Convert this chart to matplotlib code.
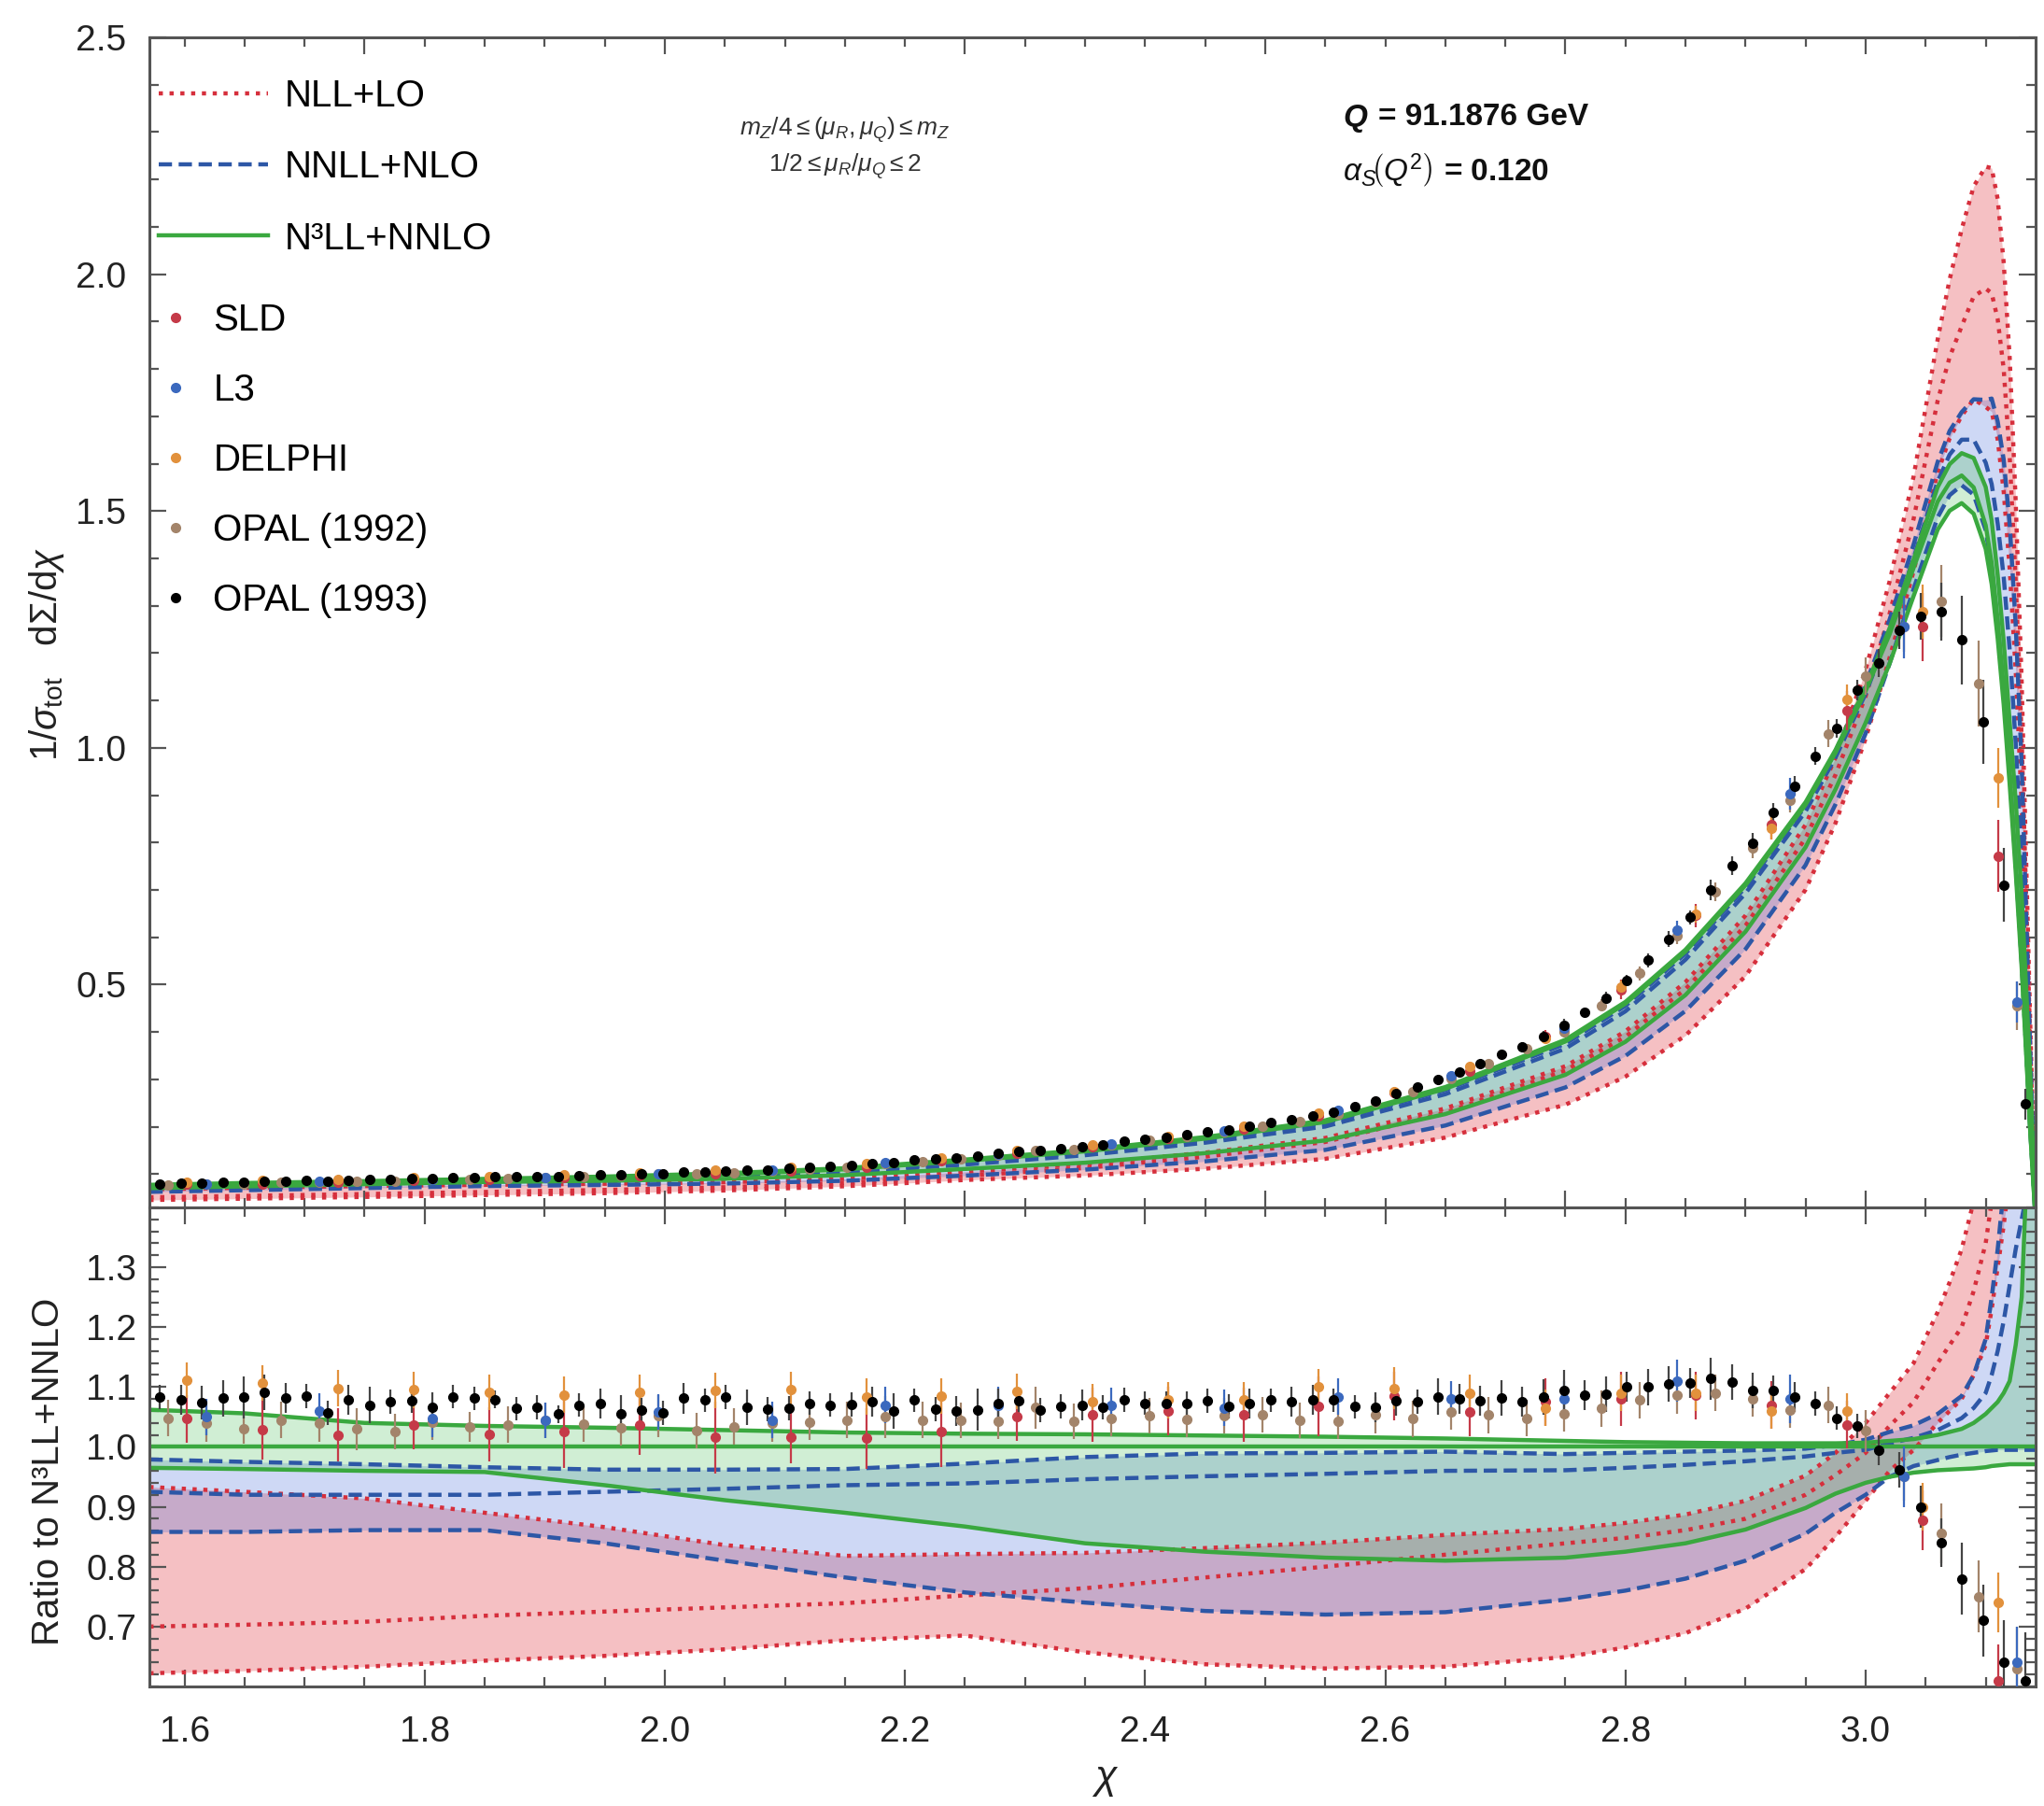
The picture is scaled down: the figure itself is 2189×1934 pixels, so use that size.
import numpy as np
import matplotlib
matplotlib.use('Agg')
import matplotlib.pyplot as plt
from matplotlib.ticker import MultipleLocator, FixedLocator, FormatStrFormatter
from matplotlib.lines import Line2D

plt.rcParams.update({
    'font.family': ['Liberation Sans', 'DejaVu Sans'],
    'mathtext.fontset': 'custom',
    'mathtext.rm': 'Liberation Sans',
    'mathtext.it': 'Liberation Sans:italic',
    'mathtext.bf': 'Liberation Sans:bold',
    'axes.unicode_minus': False,
})

# theory grid (chi in rad) and N3LL+NNLO central value
CHI = [1.5708, 1.65, 1.75, 1.85, 1.95, 2.05, 2.15, 2.25, 2.35, 2.45, 2.55, 2.65, 2.75, 2.8, 2.85,
       2.9, 2.95, 2.975, 3.0, 3.02, 3.04, 3.06, 3.07, 3.08, 3.09, 3.10, 3.105, 3.11, 3.115,
       3.12, 3.125, 3.13, 3.137, 3.1416]
G_MID = [0.073, 0.077, 0.082, 0.087, 0.092, 0.099, 0.110, 0.128, 0.148, 0.175, 0.210, 0.280, 0.380,
         0.460, 0.570, 0.710, 0.880, 0.990, 1.120, 1.240, 1.380, 1.520, 1.560, 1.575, 1.550, 1.470,
         1.390, 1.270, 1.125, 0.950, 0.760, 0.550, 0.200, 0.0]

# band edges as ratio to N3LL+NNLO central
G_UP = [1.062, 1.056, 1.040, 1.035, 1.032, 1.028, 1.024, 1.022, 1.021, 1.019, 1.017, 1.014, 1.010,
        1.008, 1.007, 1.006, 1.006, 1.006, 1.007, 1.010, 1.013, 1.020, 1.025, 1.030, 1.040, 1.055,
        1.065, 1.075, 1.090, 1.110, 1.170, 1.250, 1.600, 2.000]
G_LO = [0.965, 0.963, 0.960, 0.958, 0.936, 0.911, 0.890, 0.867, 0.839, 0.825, 0.815, 0.810, 0.815,
        0.825, 0.839, 0.862, 0.898, 0.922, 0.940, 0.950, 0.957, 0.961, 0.962, 0.963, 0.964, 0.966,
        0.968, 0.969, 0.970, 0.971, 0.971, 0.971, 0.971, 0.971]
B_UP = [0.979, 0.975, 0.971, 0.966, 0.962, 0.962, 0.963, 0.972, 0.983, 0.989, 0.990, 0.992, 0.988,
        0.990, 0.992, 0.994, 0.997, 1.003, 1.012, 1.025, 1.036, 1.055, 1.070, 1.085, 1.120, 1.180,
        1.250, 1.330, 1.430, 1.550, 1.660, 1.750, 1.850, 1.900]
B_MID = [0.925, 0.920, 0.920, 0.920, 0.925, 0.930, 0.936, 0.939, 0.946, 0.951, 0.955, 0.960, 0.961,
         0.965, 0.970, 0.976, 0.984, 0.990, 0.995, 1.006, 1.015, 1.028, 1.038, 1.048, 1.065, 1.090,
         1.120, 1.160, 1.210, 1.270, 1.330, 1.380, 1.450, 1.500]
B_LO = [0.858, 0.858, 0.861, 0.861, 0.839, 0.810, 0.782, 0.757, 0.740, 0.726, 0.720, 0.724, 0.745,
        0.760, 0.780, 0.810, 0.855, 0.890, 0.920, 0.950, 0.968, 0.978, 0.983, 0.987, 0.990, 0.993,
        0.994, 0.995, 0.995, 0.995, 0.995, 0.995, 0.995, 0.995]
R_UP = [0.933, 0.925, 0.914, 0.890, 0.866, 0.836, 0.818, 0.821, 0.823, 0.831, 0.840, 0.853, 0.863,
        0.873, 0.887, 0.910, 0.952, 0.990, 1.040, 1.090, 1.140, 1.225, 1.275, 1.330, 1.410, 1.515,
        1.600, 1.700, 1.800, 1.920, 2.000, 2.070, 2.150, 2.200]
R_MID = [0.700, 0.703, 0.708, 0.718, 0.725, 0.732, 0.739, 0.752, 0.764, 0.782, 0.800, 0.820, 0.839,
         0.848, 0.861, 0.880, 0.920, 0.953, 0.990, 1.035, 1.075, 1.140, 1.170, 1.200, 1.260, 1.340,
         1.410, 1.500, 1.600, 1.700, 1.780, 1.850, 1.950, 2.000]
R_LO = [0.622, 0.626, 0.633, 0.643, 0.651, 0.662, 0.677, 0.685, 0.657, 0.637, 0.630, 0.633, 0.649,
        0.665, 0.689, 0.730, 0.796, 0.850, 0.910, 0.960, 0.995, 1.040, 1.060, 1.080, 1.120, 1.170,
        1.230, 1.300, 1.370, 1.450, 1.530, 1.600, 1.680, 1.700]

# data: bin centres in degrees, ratio to N3LL+NNLO, error (ratio units)
OPAL93_DEG = np.arange(90.5, 180.0, 1.0)
OPAL93 = [1.083, 1.079, 1.074, 1.081, 1.083, 1.091, 1.082, 1.085, 1.057, 1.078,
          1.070, 1.075, 1.077, 1.066, 1.084, 1.081, 1.079, 1.064, 1.066, 1.055,
          1.070, 1.072, 1.056, 1.061, 1.057, 1.081, 1.078, 1.083, 1.066, 1.063,
          1.065, 1.073, 1.070, 1.071, 1.076, 1.060, 1.078, 1.063, 1.060, 1.062,
          1.072, 1.077, 1.061, 1.068, 1.070, 1.066, 1.079, 1.073, 1.073, 1.072,
          1.077, 1.068, 1.073, 1.078, 1.075, 1.079, 1.078, 1.067, 1.066, 1.077,
          1.076, 1.084, 1.080, 1.077, 1.082, 1.075, 1.083, 1.094, 1.086, 1.088,
          1.100, 1.100, 1.105, 1.107, 1.114, 1.108, 1.094, 1.094, 1.083, 1.072,
          1.048, 1.035, 0.995, 0.962, 0.900, 0.840, 0.780, 0.710, 0.640, 0.610]
OPAL93_ERR = [0.020, 0.025, 0.028, 0.030, 0.035, 0.030, 0.025, 0.020, 0.020, 0.025,
              0.030, 0.020, 0.020, 0.025, 0.020, 0.020, 0.015, 0.020, 0.020, 0.015,
              0.020, 0.025, 0.030, 0.020, 0.020, 0.025, 0.020, 0.020, 0.030, 0.020,
              0.020, 0.020, 0.020, 0.020, 0.025, 0.030, 0.020, 0.020, 0.025, 0.035,
              0.025, 0.020, 0.020, 0.020, 0.025, 0.020, 0.020, 0.020, 0.020, 0.020,
              0.020, 0.020, 0.025, 0.020, 0.025, 0.025, 0.020, 0.020, 0.025, 0.025,
              0.020, 0.030, 0.025, 0.025, 0.030, 0.025, 0.030, 0.035, 0.025, 0.030,
              0.025, 0.030, 0.030, 0.025, 0.035, 0.030, 0.030, 0.025, 0.025, 0.020,
              0.020, 0.020, 0.025, 0.030, 0.035, 0.040, 0.060, 0.060, 0.070, 0.080]

OPAL92_DEG = np.arange(90.9, 180.0, 1.8)
OPAL92 = [1.048, 1.039, 1.030, 1.045, 1.039, 1.030, 1.026, 1.041, 1.033, 1.037,
          1.044, 1.038, 1.032, 1.052, 1.027, 1.034, 1.039, 1.041, 1.045, 1.050,
          1.045, 1.044, 1.043, 1.066, 1.043, 1.048, 1.052, 1.046, 1.052, 1.054,
          1.044, 1.043, 1.053, 1.047, 1.059, 1.053, 1.048, 1.056, 1.064, 1.078,
          1.086, 1.090, 1.080, 1.062, 1.070, 1.027, 0.950, 0.855, 0.750, 0.630]
OPAL92_ERR = [0.030, 0.030, 0.025, 0.030, 0.030, 0.035, 0.030, 0.030, 0.025, 0.030,
              0.030, 0.030, 0.030, 0.035, 0.030, 0.030, 0.030, 0.030, 0.030, 0.035,
              0.030, 0.030, 0.030, 0.035, 0.030, 0.030, 0.030, 0.030, 0.030, 0.030,
              0.030, 0.030, 0.030, 0.030, 0.030, 0.030, 0.030, 0.030, 0.030, 0.030,
              0.030, 0.030, 0.030, 0.030, 0.030, 0.035, 0.040, 0.050, 0.060, 0.070]

SLD_DEG = np.arange(91.8, 180.0, 3.6)
SLD = [1.047, 1.029, 1.020, 1.036, 1.021, 1.025, 1.036, 1.016, 1.017, 1.014,
       1.026, 1.050, 1.054, 1.060, 1.054, 1.068, 1.085, 1.058, 1.075, 1.080,
       1.086, 1.070, 1.037, 0.877, 0.610]
SLD_ERR = [0.040, 0.050, 0.045, 0.040, 0.045, 0.060, 0.050, 0.060, 0.045, 0.050,
           0.060, 0.040, 0.045, 0.040, 0.045, 0.050, 0.040, 0.040, 0.040, 0.045,
           0.040, 0.040, 0.040, 0.050, 0.060]

DELPHI_DEG = np.arange(91.8, 180.0, 3.6)
DELPHI = [1.111, 1.107, 1.098, 1.095, 1.091, 1.087, 1.091, 1.094, 1.095, 1.084,
          1.085, 1.093, 1.075, 1.078, 1.079, 1.100, 1.098, 1.090, 1.065, 1.090,
          1.090, 1.060, 1.060, 0.900, 0.740]
DELPHI_ERR = [0.030, 0.030, 0.030, 0.030, 0.030, 0.030, 0.030, 0.030, 0.030, 0.030,
              0.030, 0.030, 0.030, 0.030, 0.030, 0.030, 0.035, 0.030, 0.030, 0.030,
              0.030, 0.030, 0.030, 0.040, 0.050]

L3_DEG = np.arange(92.7, 180.0, 5.4)
L3 = [1.050, 1.060, 1.047, 1.044, 1.058, 1.045, 1.070, 1.070, 1.069, 1.065,
      1.084, 1.080, 1.080, 1.110, 1.080, 0.950, 0.640]
L3_ERR = [0.030, 0.030, 0.030, 0.030, 0.030, 0.030, 0.030, 0.030, 0.030, 0.030,
          0.030, 0.030, 0.030, 0.035, 0.040, 0.050, 0.060]

RED, BLUE, GREEN = '#d62f3c', '#2d57a6', '#3aa83f'

fig = plt.figure(figsize=(21.89, 19.34), dpi=100)
ax1 = fig.add_axes([0.0731, 0.3315, 0.9228, 0.6478])
ax2 = fig.add_axes([0.0731, 0.0662, 0.9228, 0.2653])

chi = np.array(CHI)
gmid = np.array(G_MID)
orders = [
    (R_UP, R_MID, R_LO, RED, (0, (1, 1.6)), '#e23c46', 0.32),
    (B_UP, B_MID, B_LO, BLUE, (0, (3.2, 1.6)), '#4a72dc', 0.27),
    (G_UP, None, G_LO, GREEN, '-', '#4cc05a', 0.26),
]
for up, mid, lo, col, ls, fcol, alpha in orders:
    up, lo = np.array(up), np.array(lo)
    ax1.fill_between(chi, up * gmid, lo * gmid, color=fcol, alpha=alpha, lw=0, zorder=1)
    ax2.fill_between(chi, up, lo, color=fcol, alpha=alpha, lw=0, zorder=1)
for up, mid, lo, col, ls, fcol, alpha in orders:
    curves = [up, mid, lo] if mid is not None else [up, lo]
    for c in curves:
        c = np.array(c)
        ax1.plot(chi, c * gmid, color=col, ls=ls, lw=3.2, zorder=2)
        ax2.plot(chi, c, color=col, ls=ls, lw=3.2, zorder=2)
ax1.plot(chi, gmid, color=GREEN, lw=3.2, zorder=2)
ax2.plot(chi, np.ones(len(chi)), color=GREEN, lw=3.2, zorder=2)

datasets = [
    ('OPAL (1992)', OPAL92_DEG, OPAL92, OPAL92_ERR, '#a3846a'),
    ('SLD', SLD_DEG, SLD, SLD_ERR, '#c53a48'),
    ('L3', L3_DEG, L3, L3_ERR, '#3b69be'),
    ('DELPHI', DELPHI_DEG, DELPHI, DELPHI_ERR, '#e2913c'),
    ('OPAL (1993)', OPAL93_DEG, OPAL93, OPAL93_ERR, '#000000'),
]
for name, deg, val, err, col in datasets:
    x = np.deg2rad(deg)
    g = np.interp(x, chi, gmid)
    val, err = np.array(val), np.array(err)
    ecol = '#444444' if col == '#000000' else col
    ax1.errorbar(x, val * g, yerr=err * g, fmt='o', ms=7, color=col, ecolor=ecol,
                 elinewidth=1.6, capsize=0, zorder=4)
    ax2.errorbar(x, val, yerr=err, fmt='o', ms=7, color=col, ecolor=ecol,
                 elinewidth=1.6, capsize=0, zorder=4)

for ax in (ax1, ax2):
    ax.set_xlim(np.pi / 2, np.pi)
    ax.tick_params(which='both', direction='in', top=True, right=True,
                   width=1.6, color='#555555', labelsize=28, labelcolor='#222222')
    ax.tick_params(which='major', length=13)
    ax.tick_params(which='minor', length=7)
    for s in ax.spines.values():
        s.set_color('#555555')
        s.set_linewidth(2.2)

ax1.set_ylim(0.03, 2.5)
ax1.xaxis.set_major_locator(MultipleLocator(0.25))
ax1.xaxis.set_minor_locator(MultipleLocator(0.05))
ax1.yaxis.set_major_locator(MultipleLocator(0.5))
ax1.yaxis.set_minor_locator(MultipleLocator(0.1))
ax1.yaxis.set_major_formatter(FormatStrFormatter('%.1f'))
ax1.tick_params(labelbottom=False, pad=18)

ax2.set_ylim(0.6, 1.4)
ax2.xaxis.set_major_locator(MultipleLocator(0.2))
ax2.xaxis.set_minor_locator(MultipleLocator(0.05))
ax2.xaxis.set_major_formatter(FormatStrFormatter('%.1f'))
ax2.yaxis.set_major_locator(FixedLocator([0.7, 0.8, 0.9, 1.0, 1.1, 1.2, 1.3]))
ax2.yaxis.set_minor_locator(MultipleLocator(0.02))
ax2.yaxis.set_major_formatter(FormatStrFormatter('%.1f'))
ax2.tick_params(axis='x', pad=22)
ax2.tick_params(axis='y', pad=10)

W, H = 2189.0, 1934.0
fig.text(50 / W, 1 - 700 / H, r'$1/\sigma_{\mathrm{tot}}\ \ \ \mathrm{d}\Sigma/\mathrm{d}\chi$',
         rotation=90, ha='center', va='center', fontsize=29, color='#222222')
fig.text(52 / W, 1 - 1576 / H, 'Ratio to N³LL+NNLO', rotation=90,
         ha='center', va='center', fontsize=29, color='#222222')
fig.text(1184 / W, 1 - 1906 / H, r'$\chi$', ha='center', va='center', fontsize=31, color='#222222')

fig.text(905 / W, 1 - 139 / H, r'$m_Z/4 \leq (\mu_R, \mu_Q) \leq m_Z$', ha='center', va='center',
         fontsize=19, color='#333333')
fig.text(905 / W, 1 - 178 / H, r'$1/2 \leq \mu_R/\mu_Q \leq 2$', ha='center', va='center',
         fontsize=19, color='#333333')
fig.text(1438 / W, 1 - 126 / H, 'Q', ha='left', va='center', fontsize=24,
         fontweight='bold', style='italic', color='#111111')
fig.text(1476 / W, 1 - 126 / H, '= 91.1876 GeV', ha='left', va='center', fontsize=24,
         fontweight='bold', color='#111111')
fig.text(1438 / W, 1 - 183 / H, r'$\alpha_S\!\left(Q^2\right)$' + ' = 0.120', ha='left', va='center',
         fontsize=24, fontweight='bold', color='#111111')

line_handles = [Line2D([], [], color=RED, ls=(0, (1, 1.6)), lw=3.2),
                Line2D([], [], color=BLUE, ls=(0, (3.2, 1.6)), lw=3.2),
                Line2D([], [], color=GREEN, lw=3.2)]
leg1 = ax1.legend(line_handles, ['NLL+LO', 'NNLL+NLO', 'N³LL+NNLO'], loc='upper left',
                  bbox_to_anchor=(170 / W, 1 - 84 / H), bbox_transform=fig.transFigure,
                  frameon=False, fontsize=29, handlelength=2.9, handletextpad=0.45,
                  labelspacing=0.95, borderpad=0, borderaxespad=0)
ax1.add_artist(leg1)
data_handles = [Line2D([], [], marker='o', ls='none', ms=7, color=d[4]) for d in
                [datasets[1], datasets[2], datasets[3], datasets[0], datasets[4]]]
ax1.legend(data_handles, ['SLD', 'L3', 'DELPHI', 'OPAL (1992)', 'OPAL (1993)'], loc='upper left',
           bbox_to_anchor=(172 / W, 1 - 324 / H), bbox_transform=fig.transFigure,
           frameon=False, fontsize=29, handlelength=0.8, handletextpad=0.6,
           labelspacing=0.92, borderpad=0, borderaxespad=0)

fig.savefig('out.png', dpi=100)
